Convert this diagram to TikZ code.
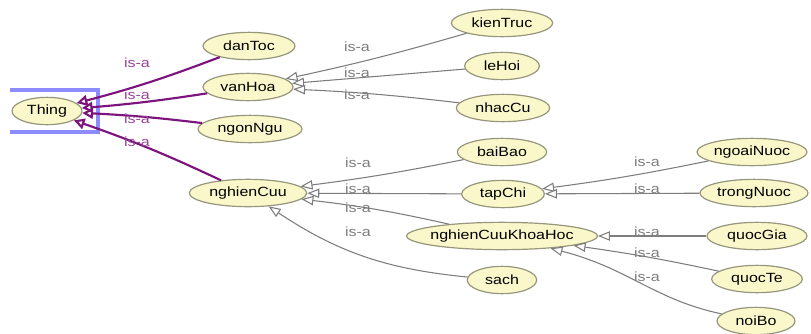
\documentclass[tikz,border=0pt]{standalone}
\usepackage{fontspec}
\setmainfont{Liberation Sans}[FakeStretch=1.2]
\usetikzlibrary{shapes.geometric,arrows.meta}
\definecolor{nodefill}{RGB}{250,248,202}
\definecolor{nodeborder}{RGB}{150,150,125}
\definecolor{edgegray}{RGB}{125,125,125}
\definecolor{labelgray}{RGB}{125,125,125}
\definecolor{edgepurple}{RGB}{125,20,125}
\definecolor{labelpurple}{RGB}{150,70,150}
\definecolor{selblue}{RGB}{140,140,255}
\begin{document}
\begin{tikzpicture}[x=0.75pt,y=-0.75pt,
  cls/.style={ellipse, draw=nodeborder, line width=0.9pt, fill=nodefill, inner sep=0pt,
    minimum height=20.5pt, font=\fontsize{10}{12}\selectfont},
  isa/.style={draw=edgegray, line width=0.8pt,
    -{Triangle[open,length=9pt,width=7pt,fill=white]}},
  isap/.style={draw=edgepurple, line width=1.6pt,
    -{Triangle[open,length=8pt,width=8pt]}},
  lblg/.style={font=\fontsize{10}{12}\selectfont, text=labelgray, inner sep=0pt},
  lblp/.style={font=\fontsize{10}{12}\selectfont, text=labelpurple, inner sep=0pt},
  sel/.style={draw=selblue, line width=2.6pt}
]
\useasboundingbox (0,0) rectangle (811,333);
% selection frame
\coordinate (s1) at (10,90);
\coordinate (s2) at (98,90);
\coordinate (s3) at (98,132);
\coordinate (s4) at (10,132);
\draw[sel] (s1) -- (s2) -- (s3) -- (s4);

% nodes
\node[cls, minimum width=52.5pt] (thing) at (47,111) {\makebox[0pt]{Thing}};
\node[cls, minimum width=69pt] (danToc) at (249,46) {\makebox[0pt]{danToc}};
\node[cls, minimum width=67.5pt] (vanHoa) at (248,87) {\makebox[0pt]{vanHoa}};
\node[cls, minimum width=78pt] (ngonNgu) at (250,129) {\makebox[0pt]{ngonNgu}};
\node[cls, minimum width=76pt] (kienTruc) at (502,23) {\makebox[0pt]{kienTruc}};
\node[cls, minimum width=56pt] (leHoi) at (502,66) {\makebox[0pt]{leHoi}};
\node[cls, minimum width=70pt] (nhacCu) at (503,108) {\makebox[0pt]{nhacCu}};
\node[cls, minimum width=67pt] (baiBao) at (502,152) {\makebox[0pt]{baiBao}};
\node[cls, minimum width=88pt] (nghienCuu) at (248,193) {\makebox[0pt]{nghienCuu}};
\node[cls, minimum width=62pt] (tapChi) at (503,194) {\makebox[0pt]{tapChi}};
\node[cls, minimum width=143pt] (nckh) at (502,236) {\makebox[0pt]{nghienCuuKhoaHoc}};
\node[cls, minimum width=52pt] (sach) at (502,280) {\makebox[0pt]{sach}};
\node[cls, minimum width=82.5pt] (ngoaiNuoc) at (752,152) {\makebox[0pt]{ngoaiNuoc}};
\node[cls, minimum width=81pt] (trongNuoc) at (754,193) {\makebox[0pt]{trongNuoc}};
\node[cls, minimum width=75pt] (quocGia) at (757,236) {\makebox[0pt]{quocGia}};
\node[cls, minimum width=68pt] (quocTe) at (757,279) {\makebox[0pt]{quocTe}};
\node[cls, minimum width=58.5pt] (noiBo) at (756,321) {\makebox[0pt]{noiBo}};

% purple edges to Thing
\draw[isap] (danToc) to[bend left=3] (thing);
\draw[isap] (vanHoa) to[bend left=2] (thing);
\draw[isap] (ngonNgu) to[bend right=2] (thing);
\draw[isap] (nghienCuu) to[bend right=3] (thing);
\node[lblp] (l1) at (137,63) {is-a};
\node[lblp] (l2) at (137,95) {is-a};
\node[lblp] (l3) at (137,119) {is-a};
\node[lblp] (l4) at (137,142) {is-a};

% gray edges
\draw[isa] (kienTruc) to[bend left=2] (vanHoa);
\draw[isa] (leHoi) -- (vanHoa);
\draw[isa] (nhacCu) to[bend right=2] (vanHoa);
\draw[isa] (baiBao) to[bend left=2] (nghienCuu);
\draw[isa] (tapChi) -- (nghienCuu);
\draw[isa] (nckh) to[bend right=3] (nghienCuu);
\draw[isa] (sach) to[bend left=14] (nghienCuu);
\draw[isa] (ngoaiNuoc) to[bend left=2] (tapChi);
\draw[isa] (trongNuoc) -- (tapChi);
\draw[isa] (quocGia) -- (nckh);
\draw[isa] (quocTe) to[bend right=2] (nckh);
\draw[isa] (noiBo) .. controls (655,300) and (628,268) .. (nckh);

\node[lblg] (g1) at (357,47) {is-a};
\node[lblg] (g2) at (357,73) {is-a};
\node[lblg] (g3) at (357,95) {is-a};
\node[lblg] (g4) at (358,163) {is-a};
\node[lblg] (g5) at (358,189) {is-a};
\node[lblg] (g6) at (358,208) {is-a};
\node[lblg] (g7) at (358,232) {is-a};
\node[lblg] (g8) at (647,162) {is-a};
\node[lblg] (g9) at (647,189) {is-a};
\node[lblg] (g10) at (647,232) {is-a};
\node[lblg] (g11) at (647,253) {is-a};
\node[lblg] (g12) at (647,277) {is-a};
\end{tikzpicture}
\end{document}
